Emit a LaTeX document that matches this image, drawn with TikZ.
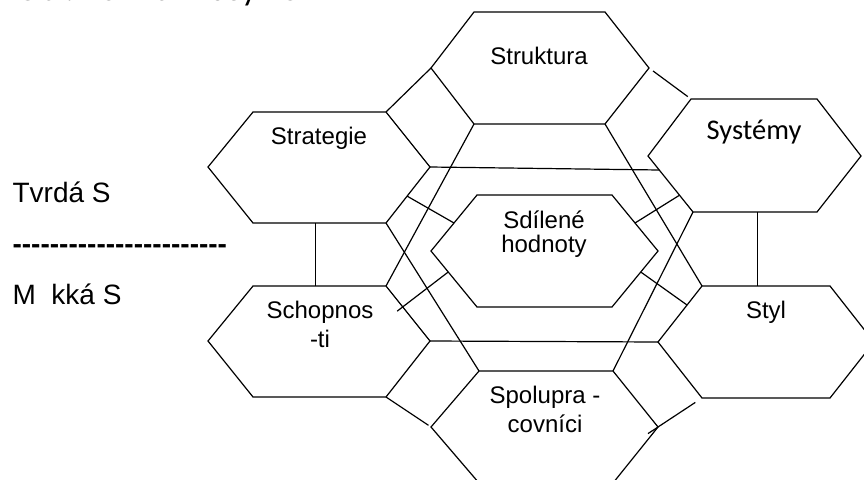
\documentclass[tikz,border=0pt]{standalone}
\usepackage{fontspec}
\setmainfont{Liberation Sans}
\newfontfamily\calibrifont{Carlito}
\usepackage{tikz}
\usetikzlibrary{calc}

\begin{document}
\begin{tikzpicture}[x=1pt,y=-1pt,line width=1.2pt,
	lbl/.style={inner sep=0pt,anchor=base,font=\fontsize{24}{29}\selectfont,align=center},
	side/.style={inner sep=0pt,anchor=base west,font=\fontsize{28}{30}\selectfont}]
	\useasboundingbox (0,0) rectangle (864,479);
	% caption, cut by the page edge
	\node[inner sep=0pt,anchor=base west,font=\calibrifont\fontsize{34}{36}\selectfont] (cap) at (16,1) {Obr. 7S McKinsey FC};
	% left labels
	\node[side] (tvrda) at (12,202) {Tvrdá S};
	\node[side,font=\bfseries\fontsize{28}{30}\selectfont] (cara) at (12,253) {\foreach \i in {1,...,23}{-\kern0pt}};
	\node[side] (mekka) at (12,304) {M\hphantom{ě}kká S};
	% cells
	\draw (431,68) coordinate (stru-l) -- (474,12) coordinate (stru-tl) -- (605,12) coordinate (stru-tr) -- (649,68) coordinate (stru-r) -- (605,124) coordinate (stru-br) -- (474,124) coordinate (stru-bl) -- cycle;
	\draw (208,167) coordinate (stra-l) -- (253,112) coordinate (stra-tl) -- (386,112) coordinate (stra-tr) -- (430,167) coordinate (stra-r) -- (386,223) coordinate (stra-br) -- (253,223) coordinate (stra-bl) -- cycle;
	\draw (648,156) coordinate (sys-l) -- (691,99) coordinate (sys-tl) -- (817,99) coordinate (sys-tr) -- (861,156) coordinate (sys-r) -- (817,212) coordinate (sys-br) -- (693,212) coordinate (sys-bl) -- cycle;
	\draw (431,251) coordinate (sdil-l) -- (477,195) coordinate (sdil-tl) -- (612,195) coordinate (sdil-tr) -- (658,251) coordinate (sdil-r) -- (612,307) coordinate (sdil-br) -- (477,307) coordinate (sdil-bl) -- cycle;
	\draw (208,341) coordinate (scho-l) -- (253,286) coordinate (scho-tl) -- (386,286) coordinate (scho-tr) -- (430,341) coordinate (scho-r) -- (386,397) coordinate (scho-br) -- (253,397) coordinate (scho-bl) -- cycle;
	\draw (658,342) coordinate (styl-l) -- (702,286) coordinate (styl-tl) -- (830,286) coordinate (styl-tr) -- (874,342) coordinate (styl-r) -- (830,398) coordinate (styl-br) -- (702,398) coordinate (styl-bl) -- cycle;
	\draw (431,427) coordinate (spol-l) -- (479,371) coordinate (spol-tl) -- (613,371) coordinate (spol-tr) -- (658,427) coordinate (spol-r) -- (613,483) coordinate (spol-br) -- (479,483) coordinate (spol-bl) -- cycle;
	% texts (base = last line)
	\node[lbl] (struktura) at (539,64) {Struktura};
	\node[lbl] (strategie) at (319,144) {Strategie};
	\node[lbl,font=\calibrifont\fontsize{28.5}{30}\selectfont] (systemy) at (754,139) {Systémy};
	\node[lbl,font=\fontsize{24}{24}\selectfont] (sdilene) at (544,252) {Sdílené\\hodnoty};
	\node[lbl] (schopnosti) at (320,347) {Schopnos\\-ti};
	\node[lbl] (styl) at (766,318) {Styl};
	\node[lbl] (spoluprac) at (545,432) {Spolupra -\\covníci};
	% links
	\draw (stra-tr) -- (stru-l);
	\draw[shorten <=5pt,shorten >=4pt] (stru-r) -- (sys-tl);
	\draw (stra-r) -- ($(sys-l)!0.25!(sys-bl)$);
	\draw (scho-r) -- (styl-l);
	\draw ($(stra-bl)!0.47!(stra-br)$) coordinate (v1) -- (v1 |- scho-tl);
	\draw ($(sys-bl)!0.52!(sys-br)$) coordinate (v2) -- (v2 |- styl-tl);
	\draw (stru-bl) -- (scho-tr);
	\draw (stra-br) -- (spol-tl);
	\draw (stru-br) -- (styl-tl);
	\draw (sys-bl) -- (spol-tr);
	\draw ($(stra-r)!0.52!(stra-br)$) -- ($(sdil-l)!0.5!(sdil-tl)$);
	\draw ($(sys-l)!0.7!(sys-bl)$) -- ($(sdil-tr)!0.5!(sdil-r)$);
	\draw[shorten >=-7pt] ($(sdil-l)!0.375!(sdil-bl)$) -- ($(scho-tr)!0.38!(scho-r)$);
	\draw ($(sdil-r)!0.375!(sdil-br)$) -- ($(styl-l)!0.66!(styl-tl)$);
	\draw[shorten >=3pt] (scho-br) -- (spol-l);
	\draw[shorten <=-12pt,shorten >=8pt] (spol-r) -- (styl-bl);
\end{tikzpicture}
\end{document}
